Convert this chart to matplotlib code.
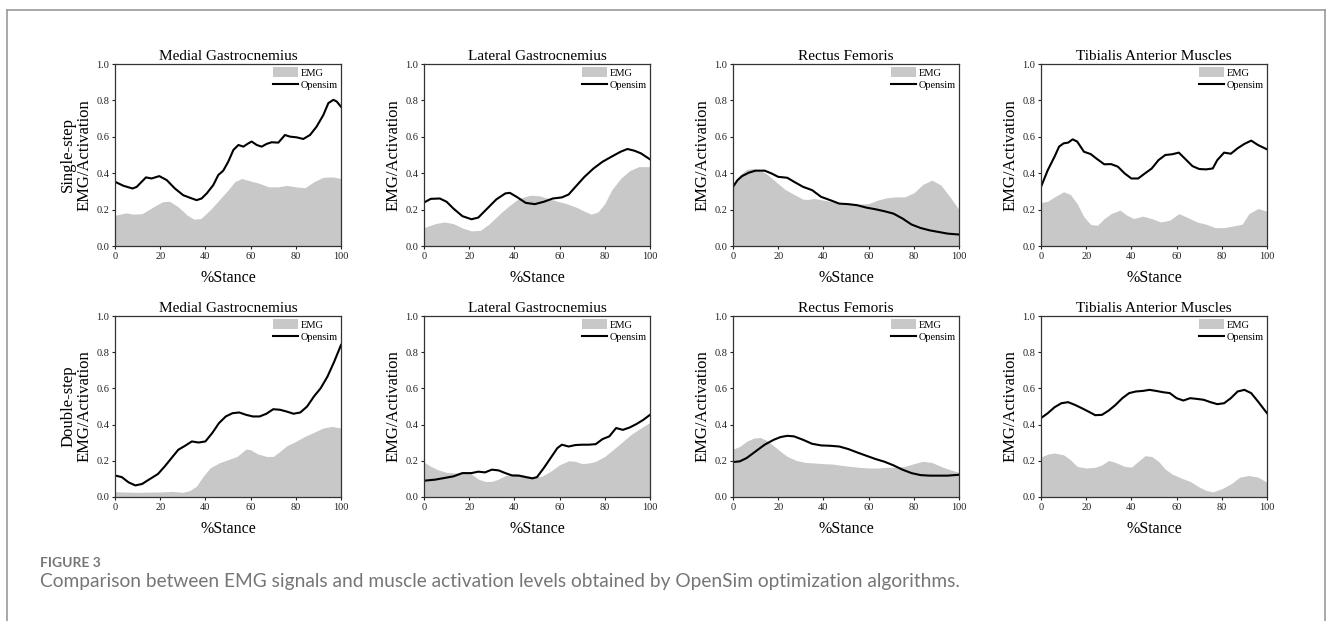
import matplotlib
matplotlib.use("Agg")
import matplotlib.pyplot as plt
from matplotlib.lines import Line2D
from matplotlib.patches import Patch

# ---------------- data ----------------
titles = ["Medial Gastrocnemius", "Lateral Gastrocnemius", "Rectus Femoris", "Tibialis Anterior Muscles"]
row_labels = ["Single-step", "Double-step"]
x_ticks = [0, 20, 40, 60, 80, 100]
y_ticks = [0.0, 0.2, 0.4, 0.6, 0.8, 1.0]

# Single-step, Medial Gastrocnemius
ss_mg_emg_x = [0, 5, 8, 12, 17, 21, 24, 28, 32, 35, 38, 42, 46, 50, 53, 56, 60, 64, 68, 72, 76, 80, 84, 88, 92, 96, 100]
ss_mg_emg_y = [0.169, 0.182, 0.175, 0.178, 0.215, 0.243, 0.246, 0.215, 0.169, 0.147, 0.151, 0.197, 0.252, 0.307, 0.353, 0.371, 0.357, 0.344, 0.325, 0.325, 0.333, 0.325, 0.32, 0.353, 0.377, 0.38, 0.371]
ss_mg_sim_x = [0, 3.7, 7.8, 9.6, 13.7, 16.2, 19.6, 22.9, 26.5, 30.2, 33.2, 36.1, 38.3, 40.6, 43.5, 45.7, 47.9, 50.1, 52.4, 54.6, 56.8, 59, 60.5, 62.7, 64.9, 67.1, 69.3, 72.3, 75.2, 77.4, 80.4, 83.3, 86.3, 89.2, 92.2, 94.4, 96.6, 98.1, 100]
ss_mg_sim_y = [0.353, 0.331, 0.316, 0.325, 0.377, 0.371, 0.384, 0.362, 0.316, 0.279, 0.265, 0.252, 0.261, 0.289, 0.335, 0.39, 0.414, 0.463, 0.528, 0.555, 0.546, 0.564, 0.574, 0.555, 0.546, 0.561, 0.57, 0.568, 0.61, 0.601, 0.597, 0.588, 0.61, 0.656, 0.72, 0.785, 0.803, 0.794, 0.765]

# Single-step, Lateral Gastrocnemius
ss_lg_emg_x = [0, 5, 9, 13, 17, 21, 25, 29, 34, 38, 42, 47, 51, 55, 59, 63, 67, 71, 74, 77, 80, 83, 87, 91, 95, 100]
ss_lg_emg_y = [0.101, 0.123, 0.132, 0.123, 0.099, 0.083, 0.086, 0.123, 0.182, 0.224, 0.261, 0.279, 0.276, 0.261, 0.246, 0.233, 0.215, 0.191, 0.175, 0.187, 0.233, 0.307, 0.371, 0.414, 0.436, 0.436]
ss_lg_sim_x = [0, 3, 7, 10, 13, 17, 21, 24, 28, 32, 36, 38, 41, 45, 49, 53, 57, 61, 64, 67, 71, 75, 79, 83, 87, 90, 93, 96, 100]
ss_lg_sim_y = [0.239, 0.259, 0.261, 0.243, 0.206, 0.164, 0.147, 0.156, 0.206, 0.256, 0.289, 0.292, 0.27, 0.237, 0.23, 0.243, 0.261, 0.267, 0.283, 0.325, 0.38, 0.426, 0.463, 0.491, 0.518, 0.533, 0.524, 0.509, 0.476]

# Single-step, Rectus Femoris
ss_rf_emg_x = [0, 3, 6, 9, 12, 15, 19, 23, 27, 31, 33, 36, 40, 44, 48, 52, 56, 60, 64, 68, 72, 76, 80, 84, 88, 92, 96, 100]
ss_rf_emg_y = [0.335, 0.39, 0.421, 0.426, 0.417, 0.395, 0.353, 0.311, 0.283, 0.257, 0.256, 0.261, 0.252, 0.243, 0.233, 0.23, 0.23, 0.233, 0.252, 0.265, 0.27, 0.27, 0.292, 0.338, 0.362, 0.335, 0.27, 0.2]
ss_rf_sim_x = [0, 2, 4, 7, 10, 14, 17, 20, 24, 27, 31, 35, 39, 43, 47, 51, 55, 59, 63, 67, 71, 75, 79, 83, 87, 91, 95, 100]
ss_rf_sim_y = [0.325, 0.362, 0.384, 0.403, 0.414, 0.414, 0.399, 0.38, 0.375, 0.353, 0.325, 0.307, 0.27, 0.252, 0.233, 0.23, 0.224, 0.211, 0.202, 0.191, 0.178, 0.151, 0.118, 0.099, 0.086, 0.077, 0.068, 0.063]

# Single-step, Tibialis Anterior
ss_ta_emg_x = [0, 3, 6, 10, 13, 16, 19, 22, 25, 28, 31, 35, 38, 41, 45, 49, 53, 57, 61, 65, 69, 73, 77, 81, 85, 89, 92, 96, 100]
ss_ta_emg_y = [0.239, 0.246, 0.27, 0.298, 0.283, 0.233, 0.16, 0.118, 0.114, 0.151, 0.178, 0.197, 0.169, 0.151, 0.164, 0.151, 0.132, 0.142, 0.178, 0.156, 0.132, 0.12, 0.101, 0.101, 0.11, 0.12, 0.178, 0.206, 0.191]
ss_ta_sim_x = [0, 3, 6, 8, 10, 12, 14, 16, 19, 22, 25, 28, 31, 34, 37, 40, 43, 46, 49, 52, 55, 58, 61, 64, 67, 70, 73, 76, 78, 81, 84, 87, 90, 93, 96, 100]
ss_ta_sim_y = [0.325, 0.417, 0.491, 0.546, 0.564, 0.568, 0.586, 0.574, 0.518, 0.505, 0.476, 0.449, 0.45, 0.436, 0.399, 0.371, 0.371, 0.399, 0.426, 0.472, 0.5, 0.504, 0.513, 0.476, 0.439, 0.423, 0.421, 0.426, 0.472, 0.513, 0.507, 0.537, 0.561, 0.579, 0.555, 0.531]

# Double-step, Medial Gastrocnemius
ds_mg_emg_x = [0, 10, 20, 25, 30, 33, 36, 39, 42, 46, 50, 54, 58, 60, 63, 67, 70, 73, 76, 80, 84, 88, 92, 96, 100]
ds_mg_emg_y = [0.029, 0.026, 0.028, 0.031, 0.026, 0.035, 0.059, 0.114, 0.16, 0.188, 0.206, 0.224, 0.265, 0.261, 0.239, 0.224, 0.224, 0.252, 0.283, 0.307, 0.335, 0.357, 0.381, 0.39, 0.381]
ds_mg_sim_x = [0, 3, 6, 9, 12, 15, 19, 22, 25, 28, 31, 34, 37, 40, 43, 46, 49, 52, 55, 58, 61, 64, 67, 70, 73, 76, 79, 82, 85, 88, 91, 94, 97, 100]
ds_mg_sim_y = [0.119, 0.11, 0.081, 0.064, 0.072, 0.096, 0.127, 0.169, 0.215, 0.261, 0.283, 0.307, 0.301, 0.307, 0.353, 0.408, 0.445, 0.463, 0.467, 0.454, 0.445, 0.445, 0.46, 0.485, 0.482, 0.472, 0.46, 0.467, 0.5, 0.555, 0.601, 0.665, 0.748, 0.84]

# Double-step, Lateral Gastrocnemius
ds_lg_emg_x = [0, 3, 6, 10, 14, 18, 21, 24, 27, 30, 33, 36, 40, 44, 48, 52, 56, 60, 64, 67, 70, 73, 76, 80, 84, 88, 92, 96, 100]
ds_lg_emg_y = [0.193, 0.169, 0.151, 0.136, 0.132, 0.142, 0.127, 0.099, 0.086, 0.086, 0.099, 0.118, 0.129, 0.123, 0.11, 0.114, 0.142, 0.178, 0.2, 0.197, 0.184, 0.188, 0.197, 0.224, 0.265, 0.307, 0.349, 0.381, 0.412]
ds_lg_sim_x = [0, 5, 9, 13, 17, 21, 24, 27, 30, 33, 36, 39, 42, 45, 48, 50, 53, 56, 59, 61, 64, 67, 70, 73, 76, 79, 82, 85, 88, 91, 94, 97, 100]
ds_lg_sim_y = [0.09, 0.096, 0.105, 0.114, 0.132, 0.132, 0.14, 0.136, 0.151, 0.147, 0.132, 0.119, 0.118, 0.11, 0.103, 0.11, 0.16, 0.215, 0.27, 0.289, 0.279, 0.287, 0.289, 0.289, 0.292, 0.32, 0.335, 0.381, 0.371, 0.384, 0.403, 0.426, 0.454]

# Double-step, Rectus Femoris
ds_rf_emg_x = [0, 3, 6, 9, 12, 15, 18, 21, 24, 28, 32, 36, 40, 44, 48, 52, 56, 60, 64, 68, 72, 76, 80, 84, 88, 92, 96, 100]
ds_rf_emg_y = [0.265, 0.279, 0.307, 0.325, 0.329, 0.312, 0.283, 0.252, 0.224, 0.202, 0.191, 0.188, 0.184, 0.182, 0.175, 0.169, 0.164, 0.16, 0.16, 0.164, 0.165, 0.169, 0.184, 0.197, 0.191, 0.169, 0.151, 0.136]
ds_rf_sim_x = [0, 3, 6, 10, 14, 18, 21, 24, 27, 31, 35, 39, 43, 47, 51, 55, 59, 63, 67, 71, 75, 79, 83, 87, 91, 95, 100]
ds_rf_sim_y = [0.193, 0.197, 0.215, 0.252, 0.289, 0.316, 0.331, 0.338, 0.335, 0.316, 0.294, 0.285, 0.283, 0.279, 0.265, 0.246, 0.228, 0.21, 0.195, 0.175, 0.151, 0.132, 0.121, 0.118, 0.118, 0.118, 0.123]

# Double-step, Tibialis Anterior
ds_ta_emg_x = [0, 3, 6, 10, 13, 16, 20, 24, 27, 30, 33, 37, 40, 43, 46, 49, 52, 55, 58, 62, 66, 70, 73, 76, 80, 84, 88, 92, 96, 100]
ds_ta_emg_y = [0.221, 0.237, 0.243, 0.233, 0.206, 0.169, 0.16, 0.164, 0.178, 0.202, 0.191, 0.169, 0.165, 0.197, 0.228, 0.224, 0.197, 0.154, 0.127, 0.105, 0.086, 0.055, 0.037, 0.028, 0.046, 0.072, 0.11, 0.119, 0.11, 0.081]
ds_ta_sim_x = [0, 3, 6, 9, 12, 15, 18, 21, 24, 27, 30, 33, 36, 39, 42, 45, 48, 51, 54, 57, 60, 63, 66, 69, 72, 75, 78, 81, 84, 87, 90, 93, 96, 100]
ds_ta_sim_y = [0.436, 0.463, 0.496, 0.518, 0.524, 0.509, 0.491, 0.472, 0.452, 0.454, 0.478, 0.509, 0.546, 0.574, 0.583, 0.586, 0.592, 0.586, 0.579, 0.574, 0.546, 0.533, 0.546, 0.542, 0.537, 0.524, 0.513, 0.518, 0.546, 0.583, 0.592, 0.574, 0.528, 0.463]

panels = [
    [(ss_mg_emg_x, ss_mg_emg_y, ss_mg_sim_x, ss_mg_sim_y),
     (ss_lg_emg_x, ss_lg_emg_y, ss_lg_sim_x, ss_lg_sim_y),
     (ss_rf_emg_x, ss_rf_emg_y, ss_rf_sim_x, ss_rf_sim_y),
     (ss_ta_emg_x, ss_ta_emg_y, ss_ta_sim_x, ss_ta_sim_y)],
    [(ds_mg_emg_x, ds_mg_emg_y, ds_mg_sim_x, ds_mg_sim_y),
     (ds_lg_emg_x, ds_lg_emg_y, ds_lg_sim_x, ds_lg_sim_y),
     (ds_rf_emg_x, ds_rf_emg_y, ds_rf_sim_x, ds_rf_sim_y),
     (ds_ta_emg_x, ds_ta_emg_y, ds_ta_sim_x, ds_ta_sim_y)],
]

# ---------------- style ----------------
W, H = 1330, 621
fig = plt.figure(figsize=(W / 100, H / 100), dpi=100)
serif = ["Liberation Serif", "DejaVu Serif"]
emg_color = "#c8c8c8"

lefts = [115, 424, 733, 1041]
ax_w = 226
rows_px = [(64, 246), (316, 497)]

for r in range(2):
    top, bot = rows_px[r]
    for c in range(4):
        ax = fig.add_axes([lefts[c] / W, 1 - bot / H, ax_w / W, (bot - top) / H])
        ex, ey, sx, sy = panels[r][c]
        ax.fill_between(ex, 0, ey, color=emg_color, linewidth=0, label="EMG")
        ax.plot(sx, sy, color="black", linewidth=1.5, label="Opensim")
        ax.set_xlim(0, 100)
        ax.set_ylim(0, 1.0)
        ax.set_xticks(x_ticks)
        ax.set_yticks(y_ticks)
        ax.set_xticklabels([str(v) for v in x_ticks], fontfamily=serif, fontsize=7.5)
        ax.set_yticklabels(["%.1f" % v for v in y_ticks], fontfamily=serif, fontsize=7.5)
        ax.tick_params(direction="out", length=2.5, width=0.8, pad=1.5, colors="#222222")
        for s in ax.spines.values():
            s.set_linewidth(0.9)
            s.set_color("#333333")
        ax.set_title(titles[c], fontfamily=serif, fontsize=11, pad=3)
        ax.set_xlabel("%Stance", fontfamily=serif, fontsize=11.5, labelpad=7)
        if c == 0:
            ax.set_ylabel(row_labels[r] + "\nEMG/Activation", fontfamily=serif, fontsize=12,
                          labelpad=3, linespacing=1.0)
        else:
            ax.set_ylabel("EMG/Activation", fontfamily=serif, fontsize=12, labelpad=3)
        handles = [Patch(facecolor=emg_color, edgecolor="none"),
                   Line2D([0], [0], color="black", linewidth=1.5)]
        ax.legend(handles, ["EMG", "Opensim"], loc="upper right", frameon=False,
                  prop={"family": serif, "size": 7.5}, handlelength=2.4, handleheight=1.1,
                  handletextpad=0.3, labelspacing=0.2, borderaxespad=0.1, borderpad=0.2)

# frame around the figure panel
frame_color = "#9a9a9a"
fig.add_artist(Line2D([7 / W, 7 / W], [0, 1 - 10 / H], transform=fig.transFigure, color=frame_color, linewidth=1.2))
fig.add_artist(Line2D([1325 / W, 1325 / W], [0, 1 - 10 / H], transform=fig.transFigure, color=frame_color, linewidth=1.2))
fig.add_artist(Line2D([7 / W, 1325 / W], [1 - 10 / H, 1 - 10 / H], transform=fig.transFigure, color=frame_color, linewidth=1.2))

# caption
cap_font = ["Lato", "DejaVu Sans"]
fig.text(40 / W, 1 - 563 / H, "FIGURE 3", fontfamily=cap_font, fontsize=10, fontweight="bold",
         color="#767676", va="center", ha="left")
fig.text(40 / W, 1 - 581 / H,
         "Comparison between EMG signals and muscle activation levels obtained by OpenSim optimization algorithms.",
         fontfamily=cap_font, fontsize=13.8, color="#767676", va="center", ha="left")

fig.savefig("out.png", dpi=100)
